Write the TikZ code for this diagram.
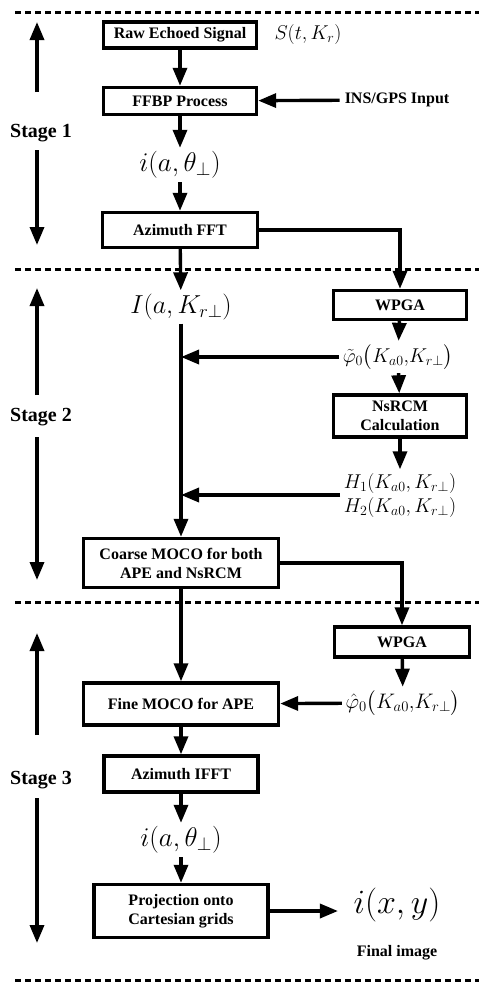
\RequirePackage{fix-cm}
\documentclass[tikz,border=0pt]{standalone}
\usepackage{amsmath}
\usepackage{fontspec}
\newfontfamily\boxfont{Liberation Serif}
\usetikzlibrary{arrows.meta}

\begin{document}
\begin{tikzpicture}[x=1pt,y=-1pt,-{Triangle[length=18pt,width=14pt]},line width=3.4pt,
                proc node/.style={draw,align=center,inner sep=1pt,line width=3.4pt,
                  font=\boxfont\bfseries\fontsize{16}{19}\selectfont},
                text node/.style={font=\boxfont\bfseries\fontsize{16}{19}\selectfont},
                sig node/.style={inner sep=2pt,font=\fontsize{#1}{#1}\selectfont},
                sig node/.default=27,
                stage node/.style={font=\boxfont\bfseries\fontsize{20}{22}\selectfont},
                sep line/.style={-,line width=3pt,dash pattern=on 6pt off 4pt}]

  \useasboundingbox (0,0) rectangle (479,985);

  % stage separators
  \foreach \y in {12,269,602,980}
    \draw[sep line] (15,\y) -- (479,\y);

  % stage labels with their arrows
  \foreach \n/\y/\t/\u/\d/\b in {1/133/22/92/150/245,2/417/288/395/437/580,3/780/633/735/798/943}{
    \node[stage node] (s\n) at (41,\y) {Stage \n};
    \coordinate (s\n t) at (37,\t);
    \coordinate (s\n u) at (37,\u);
    \coordinate (s\n d) at (37,\d);
    \coordinate (s\n b) at (37,\b);
    \draw (s\n u) -- (s\n t);
    \draw (s\n d) -- (s\n b);
  }

  % stage 1
  \node[proc node,minimum width=153pt,minimum height=26pt] (raw) at (180,35) {Raw Echoed Signal};
  \node[sig node=20] (sig) at (308,35) {$S(t,K_r)$};
  \node[proc node,minimum width=153pt,minimum height=27pt] (ffbp) at (180,101) {FFBP Process};
  \node[text node] (ins) at (397,100) {INS/GPS Input};
  \node[sig node] (iat) at (180,165) {$i(a,\theta_{\perp})$};
  \node[proc node,minimum width=155pt,minimum height=35pt] (fft) at (180,230) {Azimuth FFT};

  % stage 2
  \node[sig node=26] (Iak) at (181,307) {$I(a,K_{r\perp})$};
  \node[proc node,minimum width=133pt,minimum height=29pt] (wpga1) at (400,305) {WPGA};
  \node[sig node=20] (phit) at (398,357) {$\tilde{\varphi}_0\big(K_{a0}{,}K_{r\perp}\big)$};
  \node[proc node,minimum width=133pt,minimum height=42pt] (nsrcm) at (400,416) {NsRCM\\Calculation};
  \node[sig node,align=center,font=\fontsize{20}{24}\selectfont] (hh) at (400,495)
    {$H_1(K_{a0},K_{r\perp})$\\$H_2(K_{a0},K_{r\perp})$};
  \node[proc node,minimum width=195pt,minimum height=49pt] (coarse) at (181,563) {Coarse MOCO for both\\APE and NsRCM};

  % stage 3
  \node[proc node,minimum width=135pt,minimum height=30pt] (wpga2) at (402,642) {WPGA};
  \node[sig node=21] (phih) at (403,703) {$\hat{\varphi}_0\big(K_{a0}{,}K_{r\perp}\big)$};
  \node[proc node,minimum width=195pt,minimum height=42pt] (fine) at (181,704) {Fine MOCO for APE};
  \node[proc node,minimum width=154pt,minimum height=36pt] (ifft) at (181,774) {Azimuth IFFT};
  \node[sig node] (iat2) at (181,840) {$i(a,\theta_{\perp})$};
  \node[proc node,minimum width=174pt,minimum height=53pt] (proj) at (181,911) {Projection onto\\Cartesian grids};
  \node[sig node=34] (ixy) at (397,905) {$i(x,y)$};
  \node[text node] (final) at (397,953) {Final image};

  % connectors
  \draw (raw) -- (ffbp);
  \draw (ins) -- (ffbp);
  \draw (ffbp) -- (iat);
  \draw (iat) -- (fft);
  \draw (fft) -- (Iak);
  \draw (fft) -| (wpga1);
  \draw (Iak) -- (coarse);
  \draw (wpga1) -- (phit);
  \draw (phit) -- (nsrcm);
  \draw (nsrcm) -- (hh);
  \draw (phit) -- (phit -| Iak);
  \draw (hh) -- (hh -| Iak);
  \draw (coarse) -| (wpga2);
  \draw (coarse) -- (fine);
  \draw (wpga2) -- (phih);
  \draw (phih) -- (fine);
  \draw (fine) -- (ifft);
  \draw (ifft) -- (iat2);
  \draw (iat2) -- (proj);
  \draw[shorten >=12pt] (proj.east) -- (proj.east -| ixy.west);
\end{tikzpicture}
\end{document}
